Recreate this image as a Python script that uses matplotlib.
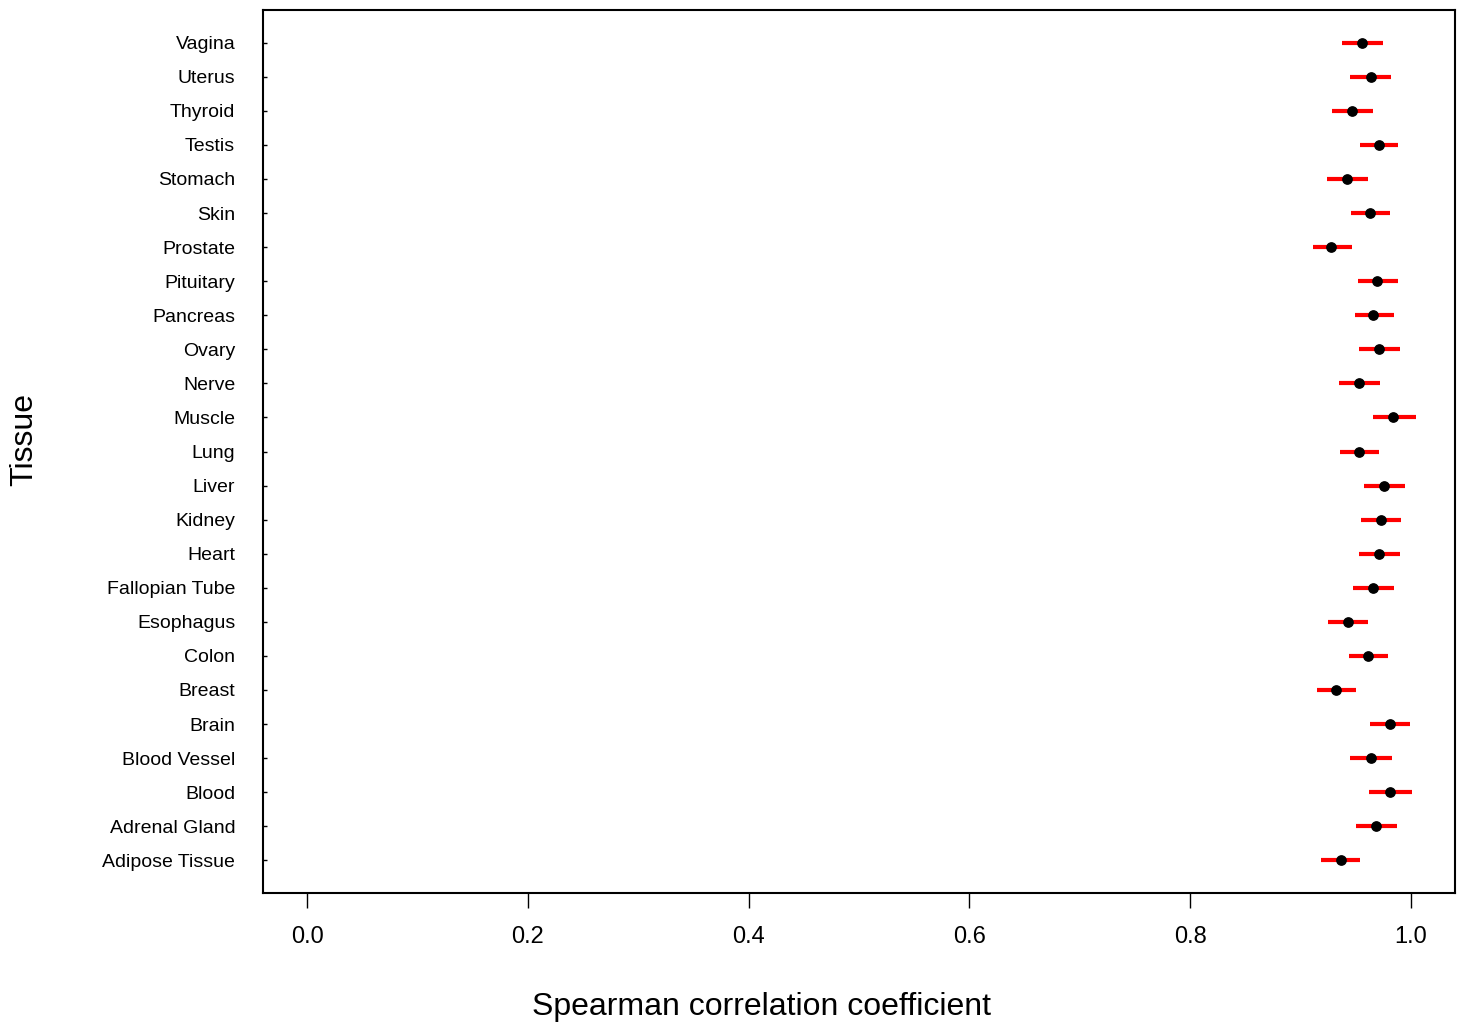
import matplotlib
matplotlib.use("Agg")
import matplotlib.pyplot as plt

# tissues, bottom to top
tecidos = ["Adipose Tissue", "Adrenal Gland", "Blood", "Blood Vessel", "Brain",
           "Breast", "Colon", "Esophagus", "Fallopian Tube", "Heart", "Kidney",
           "Liver", "Lung", "Muscle", "Nerve", "Ovary", "Pancreas", "Pituitary",
           "Prostate", "Skin", "Stomach", "Testis", "Thyroid", "Uterus", "Vagina"]

# spearman rho and interval
rho = [0.937, 0.968, 0.981, 0.964, 0.981, 0.932, 0.961, 0.943, 0.966, 0.971,
       0.973, 0.976, 0.953, 0.984, 0.953, 0.971, 0.966, 0.969, 0.928, 0.963,
       0.942, 0.971, 0.947, 0.964, 0.956]
lo = [0.919, 0.950, 0.962, 0.945, 0.963, 0.915, 0.944, 0.925, 0.948, 0.953,
      0.955, 0.958, 0.936, 0.966, 0.935, 0.953, 0.949, 0.952, 0.911, 0.946,
      0.924, 0.954, 0.929, 0.945, 0.938]
hi = [0.954, 0.987, 1.001, 0.983, 0.999, 0.950, 0.979, 0.961, 0.985, 0.990,
      0.991, 0.995, 0.971, 1.005, 0.972, 0.990, 0.985, 0.988, 0.947, 0.981,
      0.961, 0.988, 0.966, 0.982, 0.975]

plt.rcParams["font.family"] = ["Liberation Sans", "DejaVu Sans"]

fig = plt.figure(figsize=(14.63, 10.28), dpi=100)
ax = fig.add_axes([263 / 1463, 1 - 893 / 1028, (1455 - 263) / 1463, (893 - 10) / 1028])

pos = list(range(1, len(tecidos) + 1))
ax.hlines(pos, lo, hi, color="red", linewidth=3, zorder=2)
ax.scatter(rho, pos, s=45, color="black", zorder=3)

ax.set_xlim(-0.04, 1.04)
ax.set_ylim(0.04, 25.96)
ax.set_xticks([0.0, 0.2, 0.4, 0.6, 0.8, 1.0])
ax.set_xticklabels(["0.0", "0.2", "0.4", "0.6", "0.8", "1.0"], fontsize=17)
ax.set_yticks(pos)
ax.set_yticklabels(tecidos, fontsize=14)
ax.tick_params(axis="x", length=11, width=1, pad=13)
ax.tick_params(axis="y", direction="in", length=3, width=1, pad=20)

for s in ax.spines.values():
    s.set_linewidth(1.5)

ax.set_xlabel("Spearman correlation coefficient", fontsize=23)
ax.set_ylabel("Tissue", fontsize=23)
ax.xaxis.set_label_coords(0.418, -0.112)
ax.yaxis.set_label_coords(-0.188, 0.514)

fig.savefig("out.png", dpi=100)
